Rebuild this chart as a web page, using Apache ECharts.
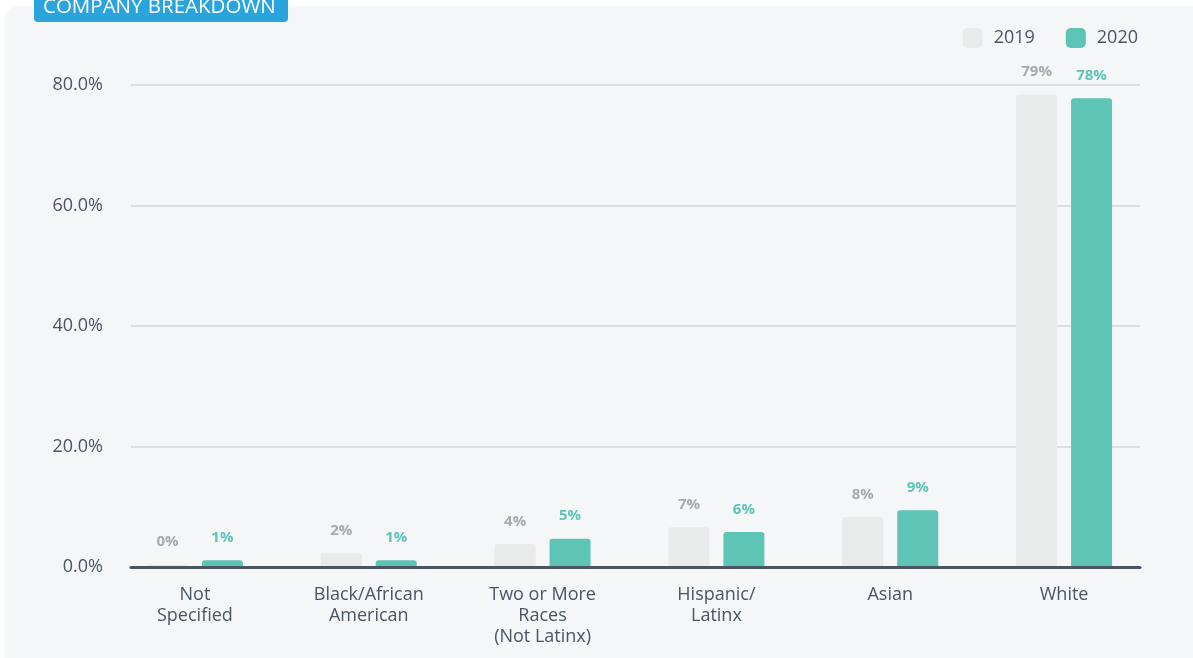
<!DOCTYPE html>
<html>
<head>
<meta charset="utf-8">
<script src="https://cdn.jsdelivr.net/npm/echarts@6/dist/echarts.min.js"></script>
<style>
html,body{margin:0;padding:0;background:#ffffff;}
#chart{width:1193px;height:658px;}
</style>
</head>
<body>
<div id="chart"></div>
<script>
const categories = ['Not\nSpecified', 'Black/African\nAmerican', 'Two or More\nRaces\n(Not Latinx)', 'Hispanic/\nLatinx', 'Asian', 'White'];
const values2019 = [0.4, 2.3, 3.8, 6.6, 8.3, 78.4];
const values2020 = [1.1, 1.1, 4.7, 5.8, 9.4, 77.8];
const labels2019 = ['0%', '2%', '4%', '7%', '8%', '79%'];
const labels2020 = ['1%', '1%', '5%', '6%', '9%', '78%'];
const yTicks = [0, 20, 40, 60, 80];
const seriesNames = ['2019', '2020'];
const title = 'COMPANY BREAKDOWN';

const FONT = '"Open Sans", "Noto Sans", sans-serif';
const chart = echarts.init(document.getElementById('chart'), null, {renderer: 'canvas'});

chart.setOption({
  backgroundColor: '#ffffff',
  animation: false,
  textStyle: {fontFamily: FONT},
  graphic: [
    {type: 'rect', z: -10, silent: true, shape: {x: 5, y: 6, width: 1210, height: 680, r: 12}, style: {fill: '#f4f6f8'}},
    {type: 'rect', z: 10, shape: {x: 34, y: -12, width: 254, height: 34, r: 4}, style: {fill: '#29a4dc'}},
    {type: 'text', z: 11, x: 43, y: 7, style: {text: title, fill: '#ffffff', font: '20.5px ' + FONT, verticalAlign: 'middle', textAlign: 'left'}}
  ],
  legend: {
    data: seriesNames,
    right: 50,
    top: 23,
    itemWidth: 20,
    itemHeight: 20,
    itemGap: 31,
    icon: 'roundRect',
    textStyle: {fontSize: 18, color: '#4b5563', fontFamily: FONT, padding: [0, 0, 0, 6]}
  },
  grid: [
    {left: 131, right: 53, top: 85, bottom: 91, containLabel: false},
    {left: 108, right: 42, top: 85, bottom: 91, containLabel: false}
  ],
  xAxis: [
    {gridIndex: 0, type: 'category', data: categories, z: 10,
     axisLine: {lineStyle: {color: '#4a5561', width: 3}}, axisTick: {show: false}, axisLabel: {show: false}},
    {gridIndex: 1, type: 'category', data: categories,
     axisLine: {show: false}, axisTick: {show: false},
     axisLabel: {fontSize: 18, color: '#4b5563', lineHeight: 21, margin: 17, fontFamily: FONT, interval: 0}}
  ],
  yAxis: [
    {gridIndex: 0, type: 'value', min: yTicks[0], max: yTicks[yTicks.length - 1], interval: 20,
     axisLine: {show: false}, axisTick: {show: false},
     axisLabel: {fontSize: 18, color: '#4b5563', margin: 28, fontFamily: FONT, formatter: v => v.toFixed(1) + '%'},
     splitLine: {lineStyle: {color: '#dcdee2', width: 2}}},
    {gridIndex: 1, type: 'value', min: yTicks[0], max: yTicks[yTicks.length - 1], interval: 20,
     show: false, splitLine: {show: false}}
  ],
  series: [
    {name: seriesNames[0], type: 'bar', xAxisIndex: 1, yAxisIndex: 1, data: values2019,
     barWidth: 41, barGap: '34%',
     itemStyle: {color: '#e9eaea', borderRadius: [3, 3, 0, 0]},
     label: {show: true, position: 'top', distance: 15, fontSize: 15, fontWeight: 'bold', color: '#a9a9a9', fontFamily: FONT,
             formatter: p => labels2019[p.dataIndex]}},
    {name: seriesNames[1], type: 'bar', xAxisIndex: 1, yAxisIndex: 1, data: values2020,
     barWidth: 41, barGap: '34%',
     itemStyle: {color: '#5ec4b6', borderRadius: [3, 3, 0, 0]},
     label: {show: true, position: 'top', distance: 15, fontSize: 15, fontWeight: 'bold', color: '#5ec4b6', fontFamily: FONT,
             formatter: p => labels2020[p.dataIndex]}}
  ]
});
</script>
</body>
</html>
